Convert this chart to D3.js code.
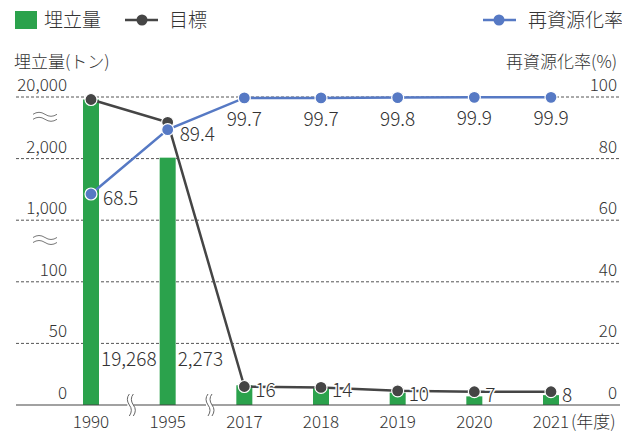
<!DOCTYPE html>
<html>
<head>
<meta charset="utf-8">
<script src="https://cdn.jsdelivr.net/npm/d3@7"></script>
<style>
  body { margin: 0; background: #fff; }
  svg text { font-family: "Noto Sans CJK JP", "Noto Sans", sans-serif; fill: #333; font-weight: 300; }
</style>
</head>
<body>
<div id="chart"></div>
<script>
// data
var years = ["1990", "1995", "2017", "2018", "2019", "2020", "2021"];
var landfill = [19268, 2273, 16, 14, 10, 7, 8];          // 埋立量 (トン)
var target = [19268, 12600, 15, 14.3, 11.5, 10.8, 10.8];  // 目標
var recycleRate = [68.5, 89.4, 99.7, 99.7, 99.8, 99.9, 99.9]; // 再資源化率 (%)
var leftTicks = [0, 50, 100, 1000, 2000, 20000];
var rightTicks = [0, 20, 40, 60, 80, 100];

var svgWidth = 622;
var svgHeight = 433;
var plotTop = 97, plotBottom = 405, plotLeft = 16, plotRight = 620;

var green = "#2ba24c", dark = "#454545", blue = "#5679c4";

var svg = d3.select("#chart").append("svg")
    .attr("width", svgWidth)
    .attr("height", svgHeight);

var x = d3.scalePoint().domain(years).range([91, 551]);

// broken axis: each tick gets an equal band
var yLeft = d3.scaleLinear()
    .domain(leftTicks)
    .range(leftTicks.map((d, i) => plotBottom - (plotBottom - plotTop) * i / (leftTicks.length - 1)));
var yRight = d3.scaleLinear().domain([0, 100]).range([plotBottom, plotTop]);

// gridlines
svg.append("g").selectAll("line")
    .data(leftTicks.slice(1))
    .join("line")
    .attr("x1", plotLeft).attr("x2", plotRight)
    .attr("y1", d => yLeft(d)).attr("y2", d => yLeft(d))
    .attr("stroke", "#555").attr("stroke-width", 1)
    .attr("stroke-dasharray", "3,2");

// left tick labels
svg.append("g").selectAll("text")
    .data(leftTicks)
    .join("text")
    .attr("x", 67)
    .attr("y", d => yLeft(d) - 6)
    .attr("text-anchor", "end")
    .attr("font-size", 17)
    .text(d => d3.format(",")(d));

// right tick labels
svg.append("g").selectAll("text")
    .data(rightTicks)
    .join("text")
    .attr("x", 617)
    .attr("y", d => yRight(d) - 6)
    .attr("text-anchor", "end")
    .attr("font-size", 17)
    .text(d => d);

// axis titles
svg.append("text").attr("x", 14).attr("y", 68).attr("font-size", 17).text("埋立量(トン)");
svg.append("text").attr("x", 617).attr("y", 68).attr("font-size", 17)
    .attr("text-anchor", "end").text("再資源化率(%)");

// wavy break marks on left axis
function wave(g, cx, cy) {
    [-2.5, 2.5].forEach(function(off) {
        g.append("path")
            .attr("d", `M${cx - 12},${cy + off + 1} q6,-4 12,0 t12,0`)
            .attr("fill", "none").attr("stroke", "#777").attr("stroke-width", 1);
    });
}
var breaks = svg.append("g");
wave(breaks, 45, (yLeft(20000) + yLeft(2000)) / 2 - 12);
wave(breaks, 45, (yLeft(1000) + yLeft(100)) / 2 - 12);

// bars
var barW = 16;
svg.append("g").selectAll("rect")
    .data(landfill)
    .join("rect")
    .attr("x", (d, i) => x(years[i]) - barW / 2)
    .attr("y", d => yLeft(d))
    .attr("width", barW)
    .attr("height", d => plotBottom - yLeft(d))
    .attr("fill", green);

// x axis line
svg.append("line")
    .attr("x1", plotLeft).attr("x2", plotRight)
    .attr("y1", plotBottom).attr("y2", plotBottom)
    .attr("stroke", "#444").attr("stroke-width", 1.2);

// x axis breaks
[ (x("1990") + x("1995")) / 2 + 1, (x("1995") + x("2017")) / 2 + 3 ].forEach(function(bx) {
    var gb = svg.append("g");
    gb.append("rect").attr("x", bx - 3).attr("y", plotBottom - 3).attr("width", 6).attr("height", 6).attr("fill", "#fff");
    [-2, 2].forEach(function(off) {
        gb.append("path")
            .attr("d", `M${bx + off + 1},${plotBottom - 11} q-4,5 0,11 q4,5 0,11`)
            .attr("fill", "none").attr("stroke", "#666").attr("stroke-width", 1);
    });
});

// x tick labels
svg.append("g").selectAll("text")
    .data(years)
    .join("text")
    .attr("x", d => x(d))
    .attr("y", 428)
    .attr("text-anchor", "middle")
    .attr("font-size", 17)
    .text(d => d);
svg.append("text").attr("x", x("2021") + 20).attr("y", 428).attr("font-size", 17).text("(年度)");

// target line
var lineT = d3.line().x((d, i) => x(years[i])).y(d => yLeft(d));
svg.append("path").datum(target)
    .attr("d", lineT)
    .attr("fill", "none").attr("stroke", dark).attr("stroke-width", 2.5);
svg.append("g").selectAll("circle")
    .data(target)
    .join("circle")
    .attr("cx", (d, i) => x(years[i]))
    .attr("cy", d => yLeft(d))
    .attr("r", 6)
    .attr("fill", dark).attr("stroke", "#fff").attr("stroke-width", 1.2);

// recycle rate line
var lineR = d3.line().x((d, i) => x(years[i])).y(d => yRight(d));
svg.append("path").datum(recycleRate)
    .attr("d", lineR)
    .attr("fill", "none").attr("stroke", blue).attr("stroke-width", 2.5);
svg.append("g").selectAll("circle")
    .data(recycleRate)
    .join("circle")
    .attr("cx", (d, i) => x(years[i]))
    .attr("cy", d => yRight(d))
    .attr("r", 6)
    .attr("fill", blue).attr("stroke", "#fff").attr("stroke-width", 1.2);

// rate labels
svg.append("g").selectAll("text")
    .data(recycleRate)
    .join("text")
    .attr("x", (d, i) => i < 2 ? x(years[i]) + 12 : x(years[i]))
    .attr("y", (d, i) => i < 2 ? yRight(d) + 11 : yRight(d) + 28)
    .attr("text-anchor", (d, i) => i < 2 ? "start" : "middle")
    .attr("font-size", 19)
    .text(d => d.toFixed(1));

// landfill labels
svg.append("g").selectAll("text")
    .data(landfill)
    .join("text")
    .attr("x", (d, i) => x(years[i]) + (i < 2 ? 10 : 11))
    .attr("y", (d, i) => i < 2 ? plotBottom - 39 : yLeft(target[i]) + 10)
    .attr("font-size", 19)
    .attr("stroke", "#fff").attr("stroke-width", 3).attr("paint-order", "stroke")
    .text(d => d3.format(",")(d));

// legend
var lg = svg.append("g");
lg.append("rect").attr("x", 15).attr("y", 11).attr("width", 22).attr("height", 18).attr("fill", green);
lg.append("text").attr("x", 44).attr("y", 27).attr("font-size", 19).text("埋立量");
lg.append("line").attr("x1", 125).attr("x2", 158).attr("y1", 20).attr("y2", 20).attr("stroke", dark).attr("stroke-width", 2.5);
lg.append("circle").attr("cx", 142).attr("cy", 20).attr("r", 5.5).attr("fill", dark);
lg.append("text").attr("x", 169).attr("y", 27).attr("font-size", 19).text("目標");
lg.append("line").attr("x1", 483).attr("x2", 516).attr("y1", 20).attr("y2", 20).attr("stroke", blue).attr("stroke-width", 2.5);
lg.append("circle").attr("cx", 499).attr("cy", 20).attr("r", 5.5).attr("fill", blue);
lg.append("text").attr("x", 528).attr("y", 27).attr("font-size", 19).text("再資源化率");
</script>
</body>
</html>
